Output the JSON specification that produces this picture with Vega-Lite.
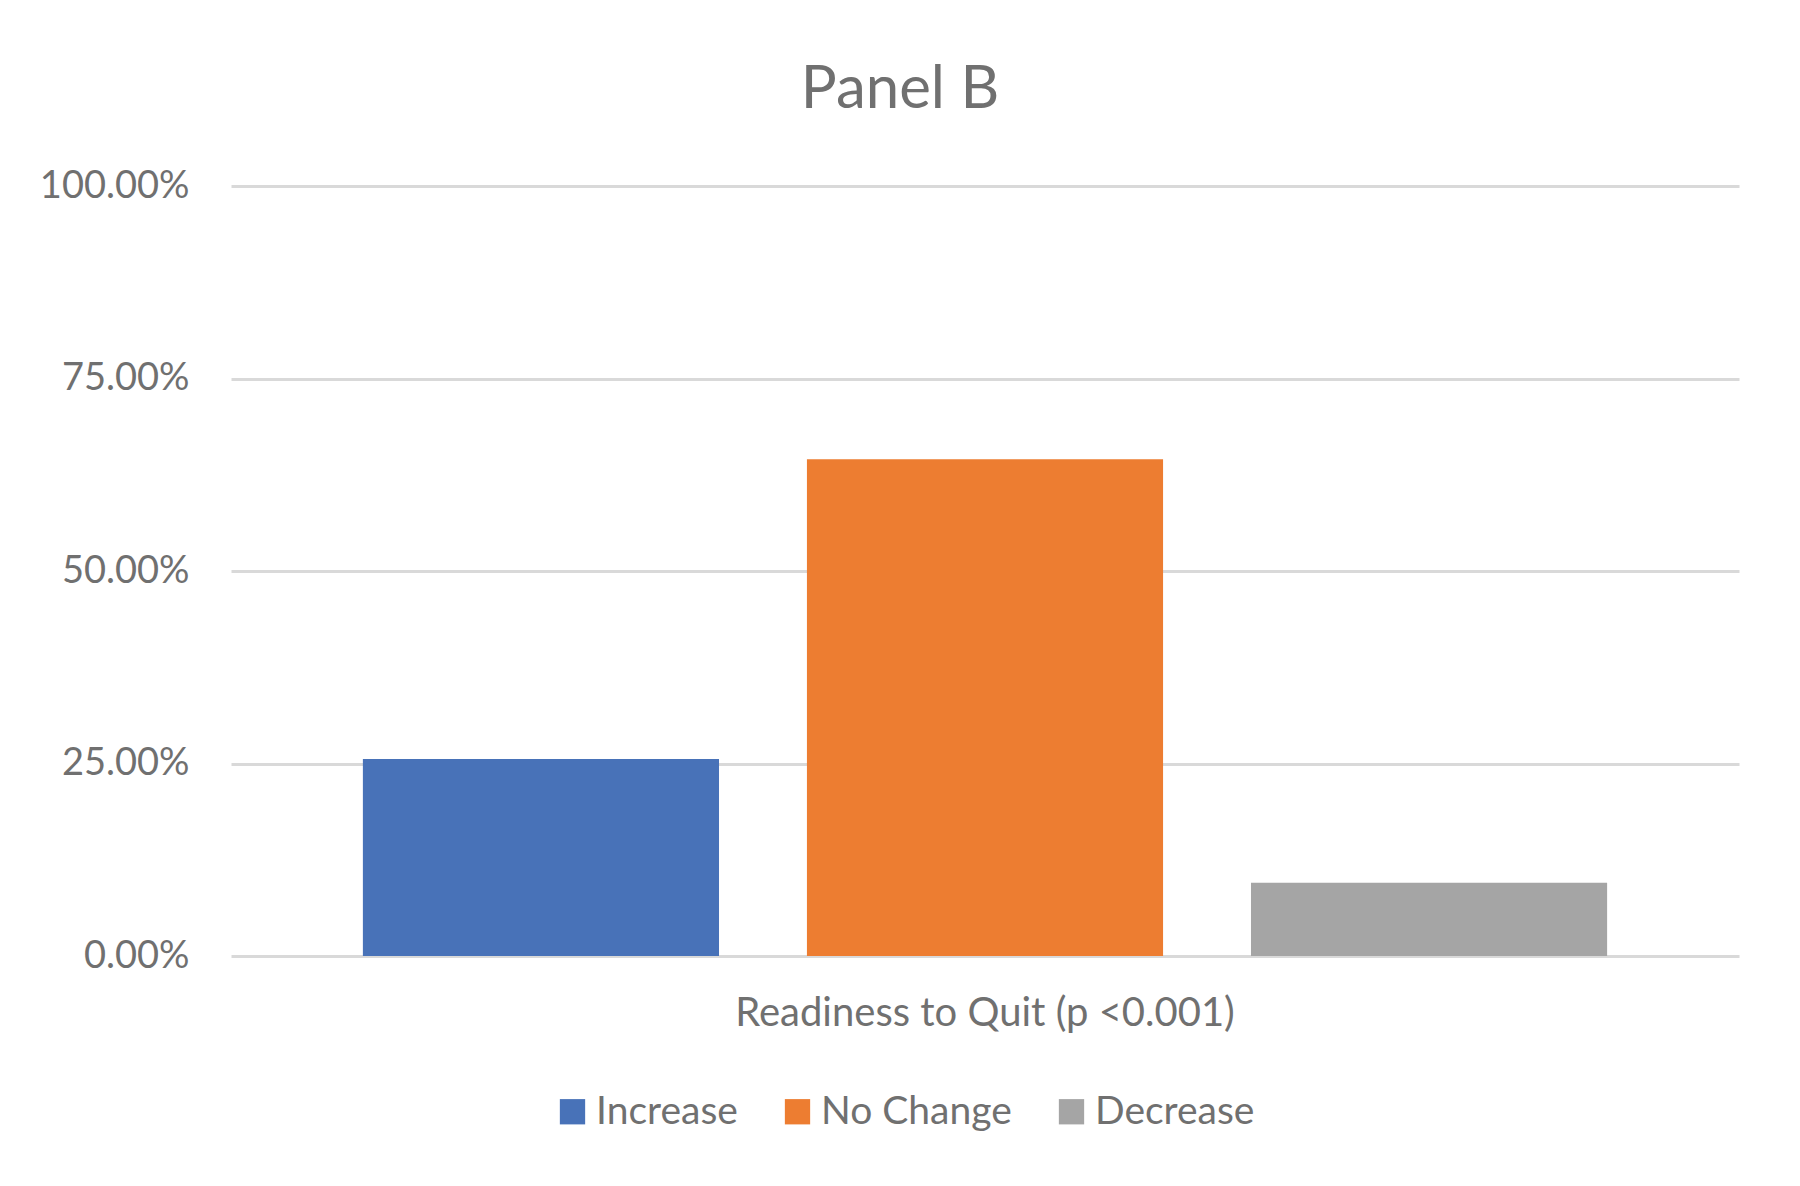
{
  "$schema": "https://vega.github.io/schema/vega-lite/v6.json",
  "width": 1508,
  "height": 770,
  "autosize": {"type": "none"},
  "padding": {"left": 231, "top": 186, "right": 61, "bottom": 230},
  "background": "white",
  "title": {
    "text": "Panel B",
    "font": "Lato",
    "fontSize": 60,
    "fontWeight": "normal",
    "color": "#707070",
    "anchor": "middle",
    "frame": "group",
    "dx": -85,
    "offset": 46
  },
  "data": {
    "values": [
      {"category": "Readiness to Quit (p <0.001)", "series": "Increase", "value": 0.256},
      {"category": "Readiness to Quit (p <0.001)", "series": "No Change", "value": 0.645},
      {"category": "Readiness to Quit (p <0.001)", "series": "Decrease", "value": 0.095}
    ]
  },
  "mark": {"type": "bar"},
  "encoding": {
    "x": {
      "field": "category",
      "type": "nominal",
      "scale": {"paddingInner": 0, "paddingOuter": 0},
      "axis": {
        "title": null,
        "labelAngle": 0,
        "labelFont": "Lato",
        "labelFontSize": 40,
        "labelColor": "#707070",
        "labelPadding": 37,
        "labelLimit": 1200,
        "ticks": false,
        "domain": false
      }
    },
    "xOffset": {
      "field": "series",
      "type": "nominal",
      "sort": ["Increase", "No Change", "Decrease"],
      "scale": {"paddingInner": 0.198, "paddingOuter": 0.297}
    },
    "y": {
      "field": "value",
      "type": "quantitative",
      "scale": {"domain": [0, 1]},
      "axis": {
        "title": null,
        "values": [0, 0.25, 0.5, 0.75, 1],
        "format": ".2%",
        "labelFont": "Lato",
        "labelFontSize": 38,
        "labelColor": "#707070",
        "labelPadding": 42,
        "ticks": false,
        "domain": false,
        "grid": true,
        "gridColor": "#d9d9d9",
        "gridWidth": 3
      }
    },
    "color": {
      "field": "series",
      "type": "nominal",
      "sort": ["Increase", "No Change", "Decrease"],
      "scale": {
        "domain": ["Increase", "No Change", "Decrease"],
        "range": ["#4872B8", "#ED7D31", "#A5A5A5"]
      },
      "legend": {
        "title": null,
        "orient": "none",
        "direction": "horizontal",
        "legendX": 322,
        "legendY": 906,
        "symbolType": "square",
        "symbolSize": 640,
        "symbolStrokeWidth": 0,
        "labelFont": "Lato",
        "labelFontSize": 39,
        "labelColor": "#707070",
        "labelOffset": 4,
        "columnPadding": 40,
        "labelLimit": 400
      }
    }
  },
  "config": {
    "view": {"stroke": null}
  }
}
